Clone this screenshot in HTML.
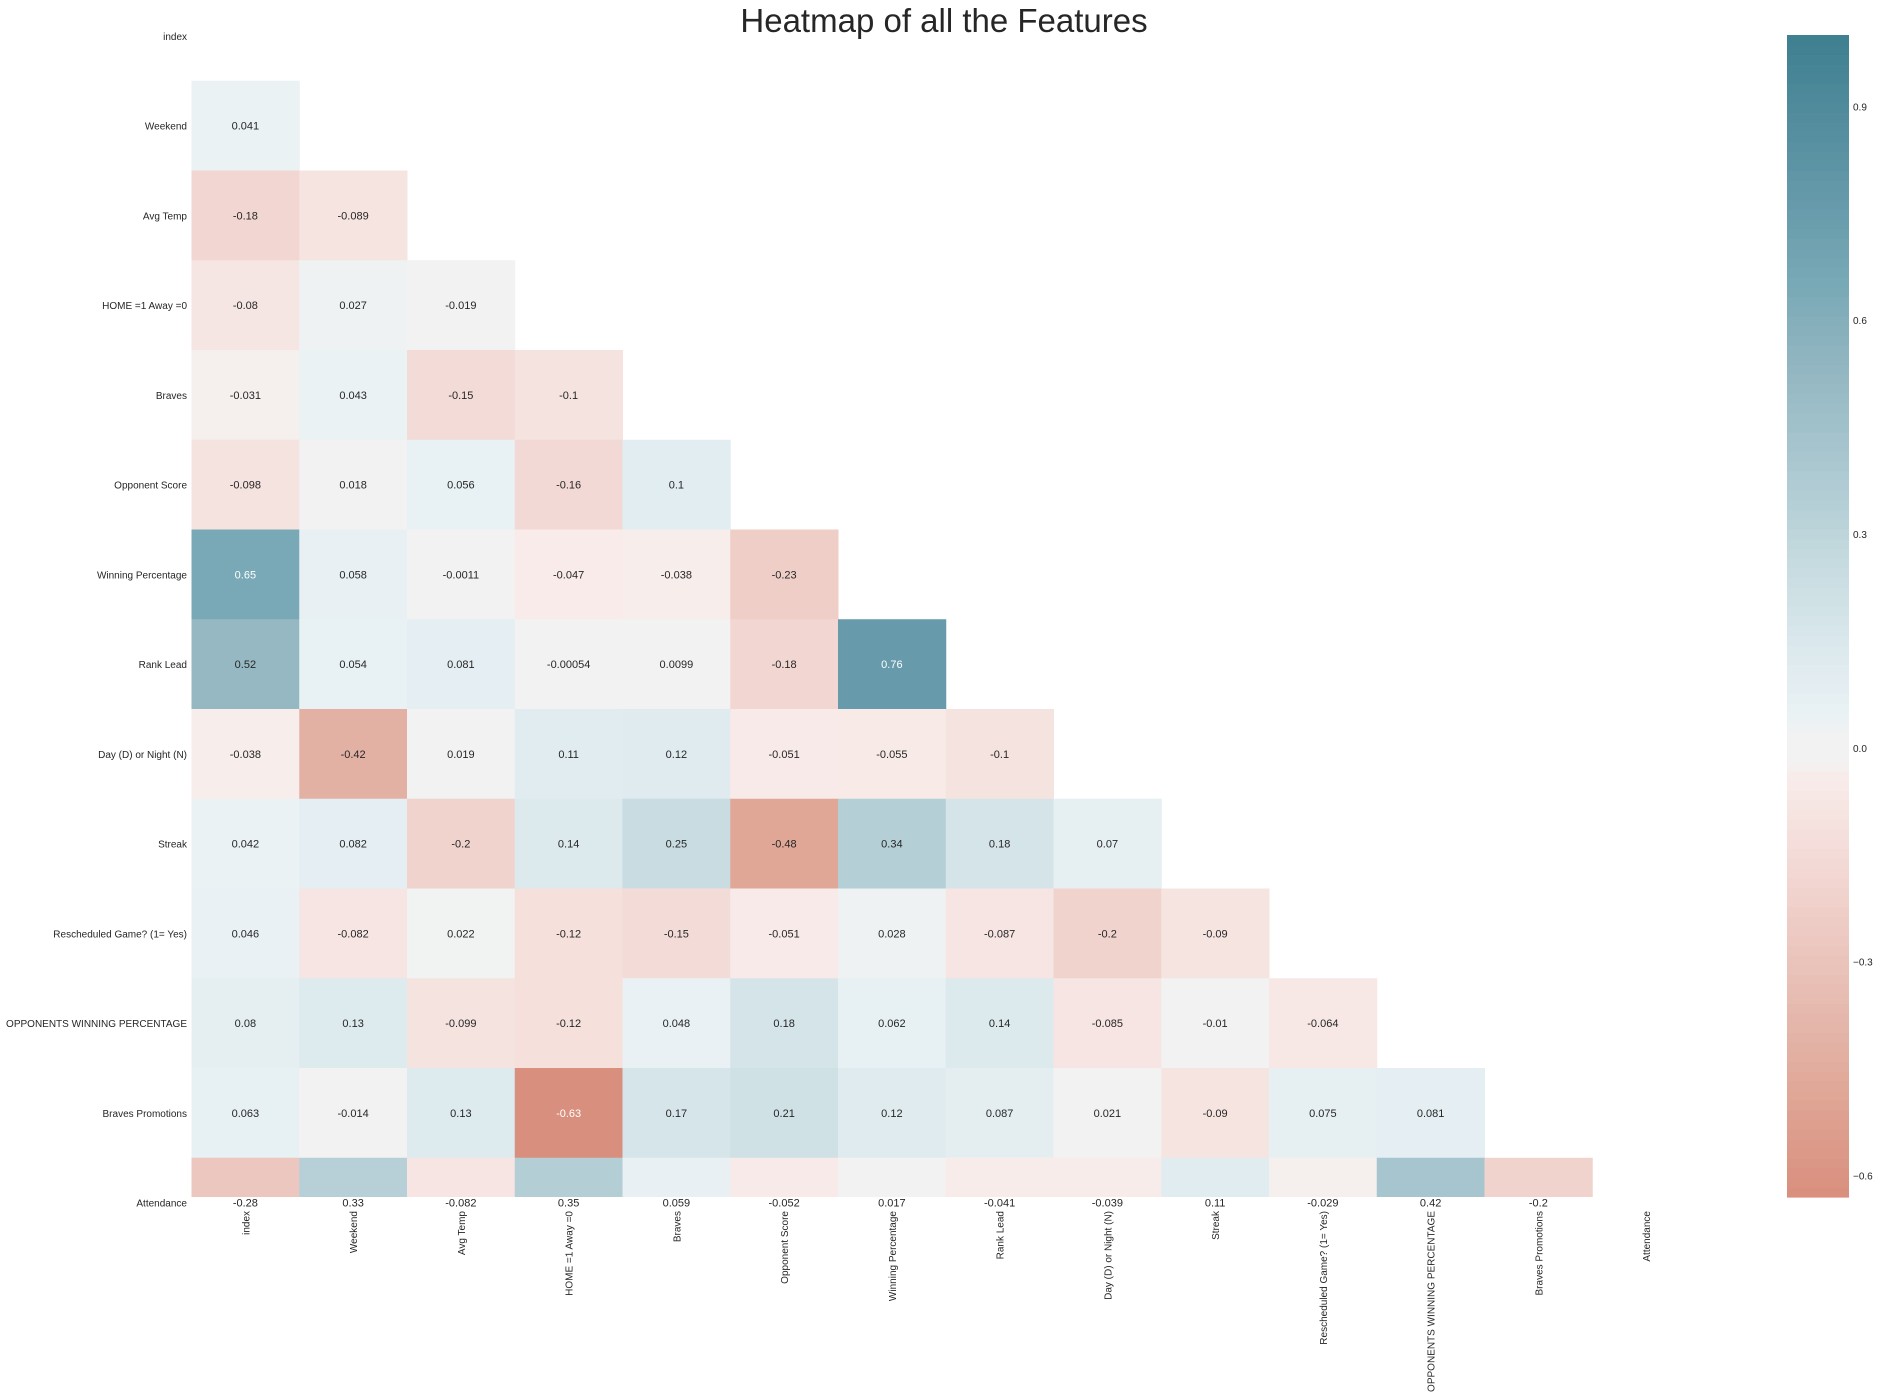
<!DOCTYPE html>
<html><head><meta charset="utf-8"><style>
html,body{margin:0;padding:0;background:#fff;}
svg{display:block;font-family:"Liberation Sans",Arial,sans-serif;}
</style></head><body>
<svg id="chart" width="1877" height="1393" viewBox="0 0 1877 1393">
<defs>
<clipPath id="axclip"><rect x="191" y="0" width="1510" height="1197"/></clipPath>
</defs>
<text x="944" y="32" text-anchor="middle" font-size="33" fill="#262626">Heatmap of all the Features</text>
<g id="cells" clip-path="url(#axclip)"></g>
<g id="annots"></g>
<g id="ylabels"></g>
<g id="xlabels"></g>
<g id="colorbar"></g>
</svg>
<script>
const labels = ["index","Weekend","Avg Temp","HOME =1 Away =0","Braves","Opponent Score","Winning Percentage","Rank Lead","Day (D) or Night (N)","Streak","Rescheduled Game? (1= Yes)","OPPONENTS WINNING PERCENTAGE","Braves Promotions","Attendance"];
const row1 = [0.041];
const row2 = [-0.18,-0.089];
const row3 = [-0.08,0.027,-0.019];
const row4 = [-0.031,0.043,-0.15,-0.1];
const row5 = [-0.098,0.018,0.056,-0.16,0.1];
const row6 = [0.65,0.058,-0.0011,-0.047,-0.038,-0.23];
const row7 = [0.52,0.054,0.081,-0.00054,0.0099,-0.18,0.76];
const row8 = [-0.038,-0.42,0.019,0.11,0.12,-0.051,-0.055,-0.1];
const row9 = [0.042,0.082,-0.2,0.14,0.25,-0.48,0.34,0.18,0.07];
const row10 = [0.046,-0.082,0.022,-0.12,-0.15,-0.051,0.028,-0.087,-0.2,-0.09];
const row11 = [0.08,0.13,-0.099,-0.12,0.048,0.18,0.062,0.14,-0.085,-0.01,-0.064];
const row12 = [0.063,-0.014,0.13,-0.63,0.17,0.21,0.12,0.087,0.021,-0.09,0.075,0.081];
const row13 = [-0.28,0.33,-0.082,0.35,0.059,-0.052,0.017,-0.041,-0.039,0.11,-0.029,0.42,-0.2];
const rows = [[],row1,row2,row3,row4,row5,row6,row7,row8,row9,row10,row11,row12,row13];
const cbTicks = [0.9,0.6,0.3,0.0,-0.3,-0.6];
const vmin = -0.63, vmax = 1.0;

const NS="http://www.w3.org/2000/svg";
const X0=191.5, CW=107.75, Y0=-9, RH=89.75;
const xPos = j => X0 + j*CW;
const yPos = i => Y0 + i*RH;
const stops=[[-0.63,[217,143,126]],[-0.48,[224,167,151]],[-0.42,[226,177,164]],[-0.2,[241,211,206]],[-0.04,[248,236,234]],[-0.02,[242,242,242]],[0.02,[242,242,242]],[0.04,[234,242,244]],[0.11,[225,236,240]],[0.25,[200,220,225]],[0.34,[181,207,214]],[0.52,[149,184,195]],[0.65,[121,169,182]],[0.76,[103,155,171]],[1.0,[62,127,144]]];
function color(v){
  if(v<=stops[0][0]) return 'rgb('+stops[0][1]+')';
  for(let k=1;k<stops.length;k++){ if(v<=stops[k][0]){const a=stops[k-1],b=stops[k];const t=(v-a[0])/(b[0]-a[0]);return 'rgb('+a[1].map((c,q)=>Math.round(c+(b[1][q]-c)*t)).join(',')+')';}}
  return 'rgb('+stops[stops.length-1][1]+')';
}
function mk(tag,attrs,parent){const e=document.createElementNS(NS,tag);for(const k in attrs)e.setAttribute(k,attrs[k]);parent.appendChild(e);return e;}
const cells=document.getElementById('cells'), annots=document.getElementById('annots');
rows.forEach((r,i)=>{r.forEach((v,j)=>{
  const rc=mk('rect',{x:xPos(j),y:yPos(i),width:CW+0.5,height:RH+0.5,fill:color(v)},cells);
  
  
  const t=mk('text',{x:xPos(j)+CW/2,y:yPos(i)+RH/2+4,'text-anchor':'middle','font-size':11,fill:Math.abs(v)>0.6?'#ffffff':'#262626'},annots);
  t.textContent=String(v);
  
  
});});
const yl=document.getElementById('ylabels'), xl=document.getElementById('xlabels');
labels.forEach((l,i)=>{
  const t=mk('text',{x:187,y:yPos(i)+RH/2+4,'text-anchor':'end','font-size':10,fill:'#262626'},yl);
  t.textContent=l;
  
  
  const cx=xPos(i)+CW/2+4, cy=1211;
  const u=mk('text',{x:cx,y:cy,'text-anchor':'end','font-size':10,fill:'#262626',transform:'rotate(-90 '+cx+' '+cy+')'},xl);
  u.textContent=l;
  
  
});
// colorbar
const CBX=1787, CBW=62, CBT=35, CBB=1197;
const cbY = v => CBB - (v-vmin)/(vmax-vmin)*(CBB-CBT);
const cb=document.getElementById('colorbar');
for(let k=0;k<120;k++){
  const v0=vmin+(vmax-vmin)*k/120, v1=vmin+(vmax-vmin)*(k+1)/120;
  const r=mk('rect',{x:CBX,y:cbY(v1),width:CBW,height:cbY(v0)-cbY(v1)+0.6,fill:color((v0+v1)/2)},cb);
  
  
}
cbTicks.forEach(v=>{
  const t=mk('text',{x:CBX+CBW+4,y:cbY(v)+4,'font-size':10,fill:'#262626'},cb);
  t.textContent=(v<0?'\u22120.'+String(Math.abs(v)).split('.')[1]:v.toFixed(1));
  
  
});
</script>
</body></html>
